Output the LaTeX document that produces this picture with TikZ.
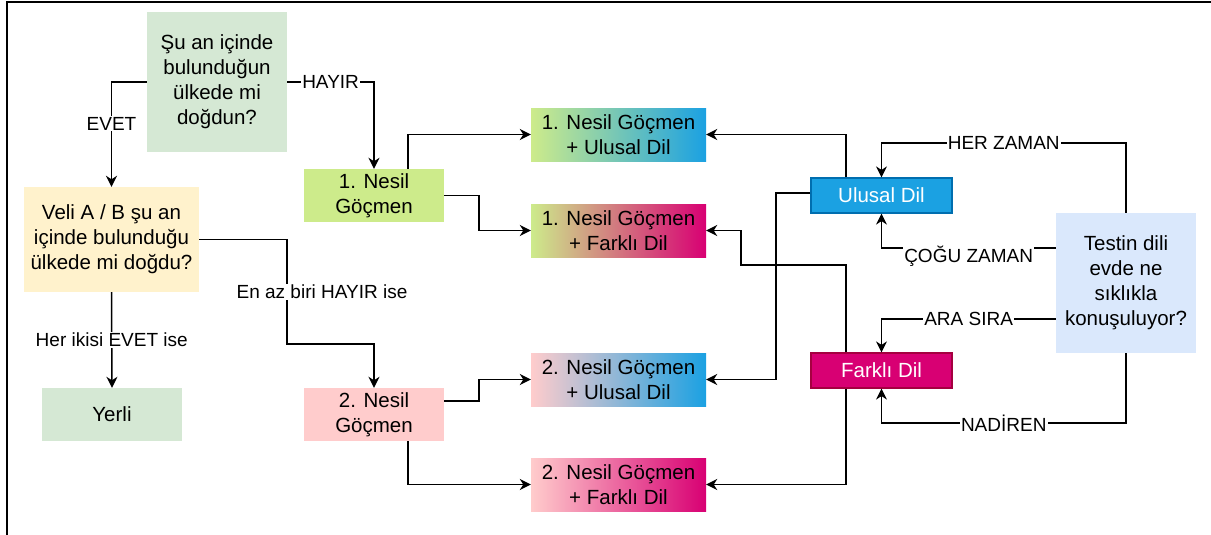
\documentclass[tikz,border=0pt]{standalone}
\usepackage{fontspec}
\setmainfont{Liberation Sans}
\usetikzlibrary{arrows.meta}
\definecolor{askgreen}{HTML}{D5E8D4}
\definecolor{askyellow}{HTML}{FFF2CC}
\definecolor{askblue}{HTML}{DAE8FC}
\definecolor{gen1}{HTML}{CDEB8B}
\definecolor{gen2}{HTML}{FFCCCC}
\definecolor{natfill}{HTML}{1BA1E2}
\definecolor{natline}{HTML}{006EAF}
\definecolor{othfill}{HTML}{D80073}
\definecolor{othline}{HTML}{A50040}
\begin{document}
\begin{tikzpicture}[x=1pt,y=-1pt,
  box/.style={inner sep=0pt,align=center,font=\fontsize{20.5}{25}\selectfont},
  lang/.style={box,draw,line width=1.2pt,text=white,minimum width=141pt,minimum height=35pt},
  grad/.style={box,minimum width=175pt,minimum height=53pt},
  lbl/.style={fill=white,inner sep=1pt,font=\fontsize{19}{22}\selectfont},
  arr/.style={-{Stealth[length=11pt,width=11pt,inset=3.5pt]},line width=1.5pt}]
  \useasboundingbox (0,0) rectangle (1211,535);
  \draw[line width=2pt] (6.5,535) -- (6.5,2.5) -- (1211,2.5);

  % questions
  \node[box,fill=askgreen,minimum width=140pt,minimum height=140pt] (q1) at (217,82)
    {Şu an içinde\\bulunduğun\\ülkede mi\\doğdun?};
  \node[box,fill=askyellow,minimum width=175pt,minimum height=105pt] (q2) at (111.5,239.5)
    {Veli A / B şu an\\içinde bulunduğu\\ülkede mi doğdu?};
  \node[box,fill=askblue,minimum width=140pt,minimum height=140pt] (testin) at (1126,283)
    {Testin dili\\evde ne\\sıklıkla\\konuşuluyor?};

  % groups
  \node[box,fill=askgreen,minimum width=140pt,minimum height=53pt] (yerli) at (112,414.5) {Yerli};
  \node[box,fill=gen1,minimum width=140pt,minimum height=53pt] (n1) at (374,195.5) {1. Nesil\\Göçmen};
  \node[box,fill=gen2,minimum width=140pt,minimum height=53pt] (n2) at (374,414.5) {2. Nesil\\Göçmen};
  \node[grad,left color=gen1,right color=natfill] (g11) at (618.5,134.5) {1. Nesil Göçmen\\+ Ulusal Dil};
  \node[grad,left color=gen1,right color=othfill] (g12) at (618.5,230.5) {1. Nesil Göçmen\\+ Farklı Dil};
  \node[grad,left color=gen2,right color=natfill] (g21) at (618.5,379.5) {2. Nesil Göçmen\\+ Ulusal Dil};
  \node[grad,left color=gen2,right color=othfill] (g22) at (618.5,484.5) {2. Nesil Göçmen\\+ Farklı Dil};
  \node[lang,fill=natfill,draw=natline] (ulusal) at (881.5,195.5) {Ulusal Dil};
  \node[lang,fill=othfill,draw=othline] (farkli) at (881.5,370.5) {Farklı Dil};

  % left side
  \draw[arr] (q1.west) -| node[lbl,pos=0.7] {EVET} (q2.north);
  \draw[arr] (q1.east) -| node[lbl,pos=0.25] {HAYIR} (n1.north);
  \draw[arr] (q2.south) -- node[lbl] {Her ikisi EVET ise} (yerli.north);
  \draw[arr] (q2.east) -| node[lbl,pos=0.75,xshift=35pt] {En az biri HAYIR ise} (287,344) -| (n2.north);

  % generations
  \draw[arr] ([xshift=34pt]n1.north) |- (g11.west);
  \draw[arr] (n1.east) -| (479,230.5) -- (g12.west);
  \draw[arr] ([yshift=13.5pt]n2.east) -| (479,379.5) -- (g21.west);
  \draw[arr] ([xshift=34pt]n2.south) |- (g22.west);

  % languages
  \draw[arr] ([xshift=-35.5pt]ulusal.north) |- (g11.east);
  \draw[arr] ([yshift=2.5pt]ulusal.west) -| (776,379.5) -- (g21.east);
  \draw[arr] ([xshift=-35.5pt]farkli.north) |- (741,265) |- (g12.east);
  \draw[arr] ([xshift=-35.5pt]farkli.south) |- (g22.east);

  % frequency
  \draw[arr] (testin.north) -- ++(0,-70) -| node[lbl,pos=0.25] {HER ZAMAN} (ulusal.north);
  \draw[arr] ([yshift=35pt]testin.west) -| node[lbl,pos=0.25,yshift=-8pt] {ÇOĞU ZAMAN} (ulusal.south);
  \draw[arr] ([yshift=-36pt]testin.west) -| node[lbl,pos=0.25] {ARA SIRA} (farkli.north);
  \draw[arr] (testin.south) -- ++(0,70) -| node[lbl,pos=0.25] {NADİREN} (farkli.south);
\end{tikzpicture}
\end{document}
